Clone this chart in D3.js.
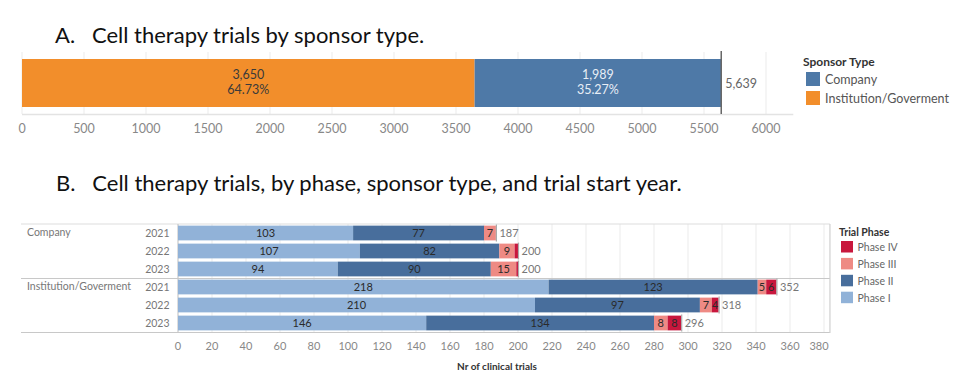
<!DOCTYPE html>
<html>
<head>
<meta charset="utf-8">
<script src="https://cdn.jsdelivr.net/npm/d3@7"></script>
<style>
  body { margin: 0; background: #fff; }
  svg { display: block; font-family: Lato, "Open Sans", sans-serif; }
</style>
</head>
<body>
<svg id="chart" width="963" height="390"></svg>
<script>
// ---- data, chart A ----
const sponsorTypes = ['Institution/Goverment', 'Company'];
const sponsorCounts = [3650, 1989];
const legendASponsors = ['Company', 'Institution/Goverment'];
const ticksA = [0, 500, 1000, 1500, 2000, 2500, 3000, 3500, 4000, 4500, 5000, 5500, 6000];

// ---- data, chart B ----
const phases = ['Phase I', 'Phase II', 'Phase III', 'Phase IV'];
const rowSponsor = ['Company', 'Company', 'Company', 'Institution/Goverment', 'Institution/Goverment', 'Institution/Goverment'];
const rowYear = ['2021', '2022', '2023', '2021', '2022', '2023'];
const phaseI = [103, 107, 94, 218, 210, 146];
const phaseII = [77, 82, 90, 123, 97, 134];
const phaseIII = [7, 9, 15, 5, 7, 8];
const phaseIV = [0, 2, 1, 6, 4, 8];
const ticksB = [0, 20, 40, 60, 80, 100, 120, 140, 160, 180, 200, 220, 240, 260, 280, 300, 320, 340, 360, 380];

const SPONSOR_COLORS = { 'Company': '#4e79a7', 'Institution/Goverment': '#f28e2b' };
const PHASE_COLORS = { 'Phase I': '#91b2d8', 'Phase II': '#486e9c', 'Phase III': '#ee8a84', 'Phase IV': '#c8173d' };
const GRID = '#ebebeb';
const LABEL_GRAY = '#777';

const svg = d3.select('#chart');

// ================= Chart A =================
svg.append('text')
  .attr('x', 55).attr('y', 43)
  .attr('font-size', 22).attr('fill', '#111')
  .attr('xml:space', 'preserve')
  .text('A.   Cell therapy trials by sponsor type.');

const xA = d3.scaleLinear().domain([0, 6000]).range([22, 766]);
const yA = d3.scaleBand().domain(['all']).range([52, 114]).paddingOuter(0.146).paddingInner(0);

const gA = svg.append('g');
gA.selectAll('line.grid').data(ticksA).join('line')
  .attr('x1', d => xA(d)).attr('x2', d => xA(d))
  .attr('y1', 52).attr('y2', 114)
  .attr('stroke', GRID);
gA.append('line')
  .attr('x1', xA(0)).attr('x2', xA(6220))
  .attr('y1', 114.5).attr('y2', 114.5)
  .attr('stroke', '#e3e3e3').attr('stroke-width', 1.5);

const total = d3.sum(sponsorCounts);
const stackA = [];
let acc = 0;
sponsorTypes.forEach((s, i) => {
  stackA.push({ sponsor: s, x0: acc, x1: acc + sponsorCounts[i], value: sponsorCounts[i] });
  acc += sponsorCounts[i];
});

gA.selectAll('rect.seg').data(stackA).join('rect')
  .attr('x', d => xA(d.x0)).attr('width', d => xA(d.x1) - xA(d.x0))
  .attr('y', yA('all')).attr('height', yA.bandwidth())
  .attr('fill', d => SPONSOR_COLORS[d.sponsor]);

const fmt = d3.format(',');
const segLabels = gA.selectAll('text.seg').data(stackA).join('text')
  .attr('text-anchor', 'middle')
  .attr('font-size', 12.5)
  .attr('fill', d => d.sponsor === 'Company' ? '#e8eef6' : '#3a3a3a');
segLabels.append('tspan')
  .attr('x', d => (xA(d.x0) + xA(d.x1)) / 2).attr('y', 79)
  .text(d => fmt(d.value));
segLabels.append('tspan')
  .attr('x', d => (xA(d.x0) + xA(d.x1)) / 2).attr('y', 94)
  .text(d => (d.value / total * 100).toFixed(2) + '%');

gA.append('line')
  .attr('x1', xA(total)).attr('x2', xA(total))
  .attr('y1', 51).attr('y2', 114)
  .attr('stroke', '#666').attr('stroke-width', 1.5);
gA.append('text')
  .attr('x', xA(total) + 4).attr('y', 88)
  .attr('font-size', 12.5).attr('fill', '#666')
  .text(fmt(total));

gA.selectAll('text.tick').data(ticksA).join('text')
  .attr('x', d => xA(d)).attr('y', 133)
  .attr('text-anchor', 'middle')
  .attr('font-size', 12.5).attr('fill', '#888')
  .text(d => d);

// legend A
const legA = svg.append('g').attr('transform', 'translate(803,0)');
legA.append('text').attr('x', 0).attr('y', 66)
  .attr('font-size', 12).attr('font-weight', 'bold').attr('fill', '#333')
  .text('Sponsor Type');
const legAItems = legA.selectAll('g.item').data(legendASponsors).join('g')
  .attr('transform', (d, i) => `translate(3,${72 + i * 19})`);
legAItems.append('rect').attr('width', 14).attr('height', 14)
  .attr('fill', d => SPONSOR_COLORS[d]);
legAItems.append('text').attr('x', 19).attr('y', 11.5)
  .attr('font-size', 12.5).attr('fill', '#555')
  .text(d => d);

// ================= Chart B =================
svg.append('text')
  .attr('x', 56).attr('y', 191)
  .attr('font-size', 22).attr('fill', '#111')
  .attr('xml:space', 'preserve')
  .text('B.   Cell therapy trials, by phase, sponsor type, and trial start year.');

const rows = rowYear.map((y, i) => ({
  key: rowSponsor[i] + '|' + y,
  sponsor: rowSponsor[i],
  year: y,
  'Phase I': phaseI[i],
  'Phase II': phaseII[i],
  'Phase III': phaseIII[i],
  'Phase IV': phaseIV[i],
}));
rows.forEach(r => { r.total = d3.sum(phases, p => r[p]); });

const xB = d3.scaleLinear().domain([0, 380]).range([178, 824]);
const xBMax = 383.5;
const yB = d3.scaleBand().domain(rows.map(r => r.key)).range([224, 332])
  .paddingInner(0.18).paddingOuter(0.09);

const gB = svg.append('g');
gB.selectAll('line.grid').data(ticksB.slice(1)).join('line')
  .attr('x1', d => xB(d)).attr('x2', d => xB(d))
  .attr('y1', 224).attr('y2', 332)
  .attr('stroke', GRID);

// table rules
gB.append('line').attr('x1', 21).attr('x2', xB(xBMax)).attr('y1', 224).attr('y2', 224)
  .attr('stroke', '#ddd');
gB.append('line').attr('x1', 21).attr('x2', xB(xBMax)).attr('y1', 278.5).attr('y2', 278.5)
  .attr('stroke', '#c8c8c8').attr('stroke-width', 1.2);
gB.append('line').attr('x1', 21).attr('x2', xB(xBMax)).attr('y1', 332.5).attr('y2', 332.5)
  .attr('stroke', '#c8c8c8').attr('stroke-width', 1.2);
gB.append('line').attr('x1', xB(0)).attr('x2', xB(0)).attr('y1', 224).attr('y2', 333)
  .attr('stroke', '#c8c8c8').attr('stroke-width', 1.2);
gB.append('line').attr('x1', xB(xBMax)).attr('x2', xB(xBMax)).attr('y1', 224).attr('y2', 333)
  .attr('stroke', '#d0d0d0').attr('stroke-width', 1.2);

const series = d3.stack().keys(phases)(rows);
const layers = gB.selectAll('g.layer').data(series).join('g')
  .attr('fill', d => PHASE_COLORS[d.key]);
layers.selectAll('rect').data(d => d.filter(s => s[1] > s[0])).join('rect')
  .attr('x', d => xB(d[0])).attr('width', d => xB(d[1]) - xB(d[0]))
  .attr('y', d => yB(d.data.key)).attr('height', yB.bandwidth());

series.forEach(layer => {
  gB.selectAll(null).data(layer.filter(s => s[1] - s[0] >= 4)).join('text')
    .attr('x', d => (xB(d[0]) + xB(d[1])) / 2)
    .attr('y', d => yB(d.data.key) + yB.bandwidth() / 2 + 4)
    .attr('text-anchor', 'middle')
    .attr('font-size', 11).attr('fill', '#2a2a2a')
    .text(d => d[1] - d[0]);
});

// totals
gB.selectAll('line.tot').data(rows).join('line')
  .attr('x1', d => xB(d.total) + 0.5).attr('x2', d => xB(d.total) + 0.5)
  .attr('y1', d => yB(d.key) - 1).attr('y2', d => yB(d.key) + yB.bandwidth() + 1)
  .attr('stroke', '#aaa').attr('stroke-width', 1.2);
gB.selectAll('text.tot').data(rows).join('text')
  .attr('x', d => xB(d.total) + 3.5)
  .attr('y', d => yB(d.key) + yB.bandwidth() / 2 + 4)
  .attr('font-size', 11).attr('fill', '#777')
  .text(d => d.total);

// row headers
gB.selectAll('text.year').data(rows).join('text')
  .attr('x', 169.5).attr('y', d => yB(d.key) + yB.bandwidth() / 2 + 4)
  .attr('text-anchor', 'end')
  .attr('font-size', 10.5).attr('fill', LABEL_GRAY)
  .text(d => d.year);
const sponsorFirstRows = rows.filter((r, i) => i === 0 || rows[i - 1].sponsor !== r.sponsor);
gB.selectAll('text.sponsor').data(sponsorFirstRows).join('text')
  .attr('x', 27).attr('y', d => yB(d.key) + yB.bandwidth() / 2 + 3)
  .attr('font-size', 10.5).attr('fill', LABEL_GRAY)
  .text(d => d.sponsor);

// x axis
gB.selectAll('text.tick').data(ticksB).join('text')
  .attr('x', (d, i) => i === ticksB.length - 1 ? xB(d) - 5 : xB(d))
  .attr('y', 350)
  .attr('text-anchor', 'middle')
  .attr('font-size', 11).attr('fill', '#888')
  .text(d => d);
svg.append('text')
  .attr('x', (xB(0) + xB(xBMax)) / 2 - 7).attr('y', 370)
  .attr('text-anchor', 'middle')
  .attr('font-size', 10).attr('font-weight', 'bold').attr('fill', '#333')
  .text('Nr of clinical trials');

// legend B
const legB = svg.append('g').attr('transform', 'translate(839,0)');
legB.append('text').attr('x', 0).attr('y', 236)
  .attr('font-size', 10.5).attr('font-weight', 'bold').attr('fill', '#333')
  .text('Trial Phase');
const legBItems = legB.selectAll('g.item').data(phases.slice().reverse()).join('g')
  .attr('transform', (d, i) => `translate(2,${241 + i * 16.9})`);
legBItems.append('rect').attr('width', 12).attr('height', 11.5)
  .attr('fill', d => PHASE_COLORS[d]);
legBItems.append('text').attr('x', 16.5).attr('y', 10)
  .attr('font-size', 10.5).attr('fill', '#666')
  .text(d => d);
</script>
</body>
</html>
